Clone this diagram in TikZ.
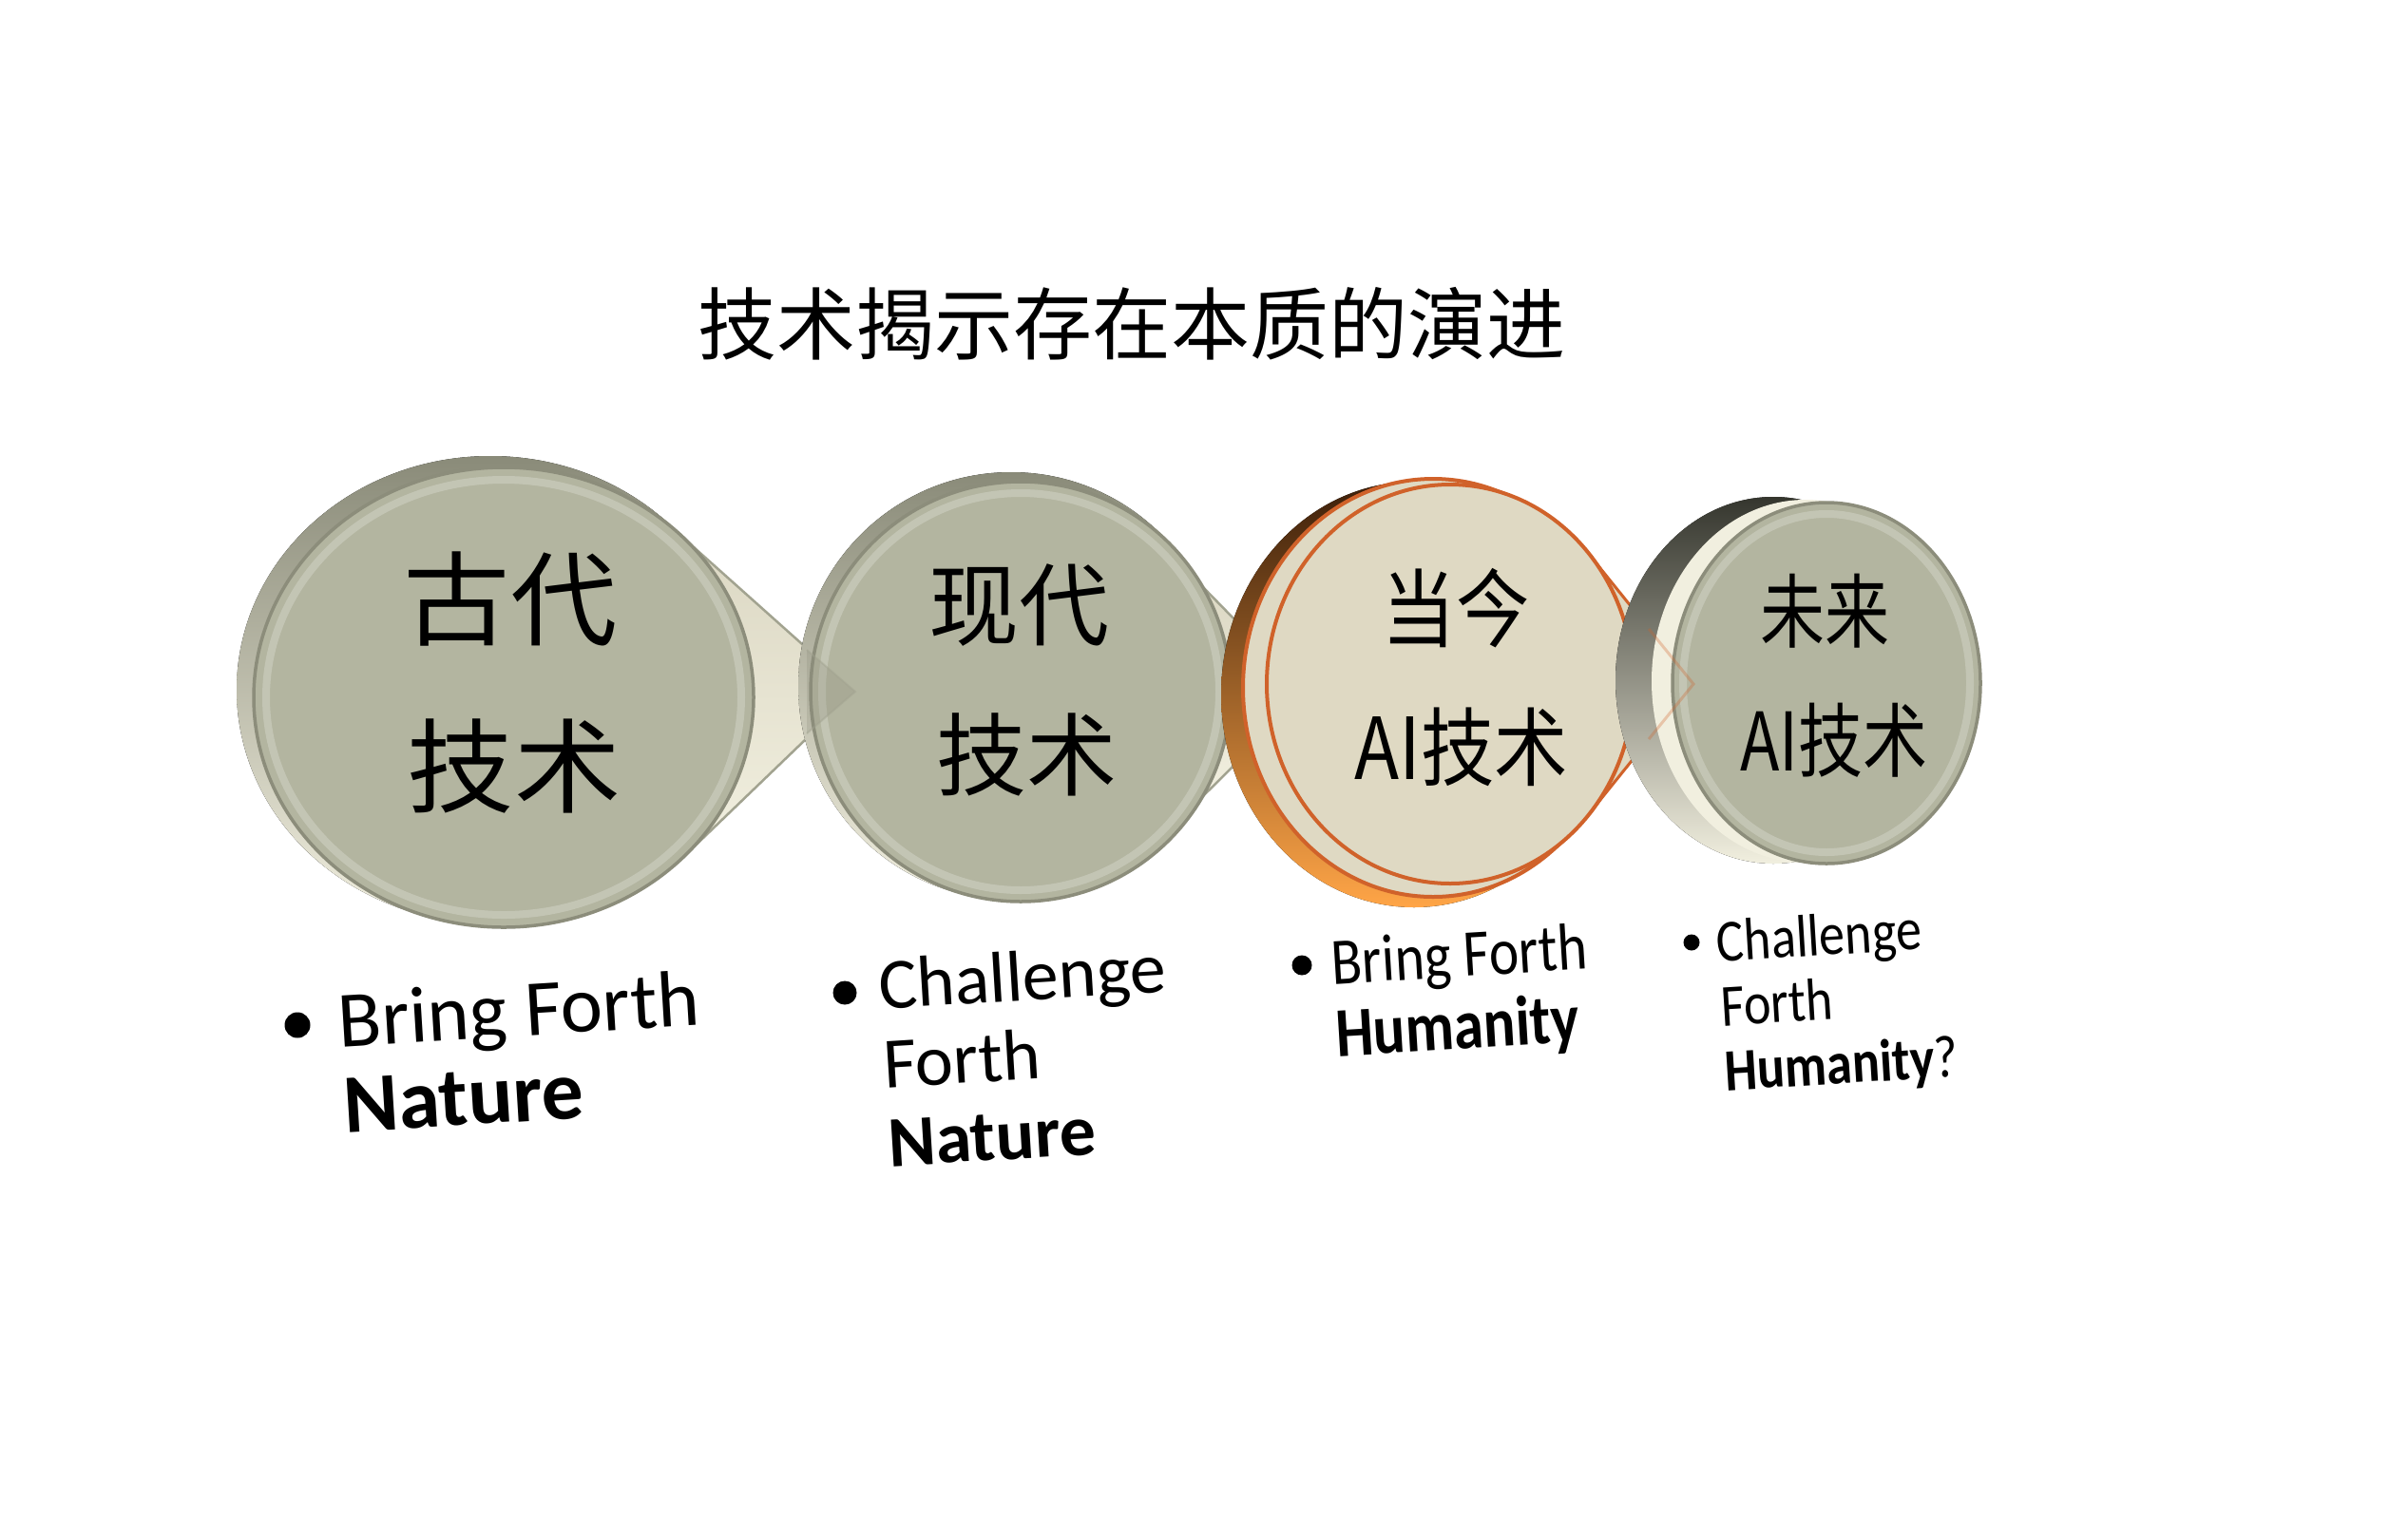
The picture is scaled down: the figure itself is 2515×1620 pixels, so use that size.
\documentclass[tikz,border=0pt]{standalone}
\usepackage{fontspec}
\setmainfont{Carlito}
\newfontfamily\cjk{Noto Sans CJK SC}
\usetikzlibrary{shapes.geometric}
\pgfdeclarelayer{bg}
\pgfsetlayers{bg,main}
\definecolor{facegray}{HTML}{B3B5A0}
\definecolor{rimdark}{HTML}{8C8D7B}
\definecolor{rimtop}{HTML}{8A8B79}
\definecolor{rimmid}{HTML}{DCD8C4}
\definecolor{rimcream}{HTML}{F1EFDF}
\definecolor{creamface}{HTML}{DFD9C3}
\definecolor{orangeline}{HTML}{D0622A}
\definecolor{brownside}{HTML}{3C1F0A}
\definecolor{orangemid}{HTML}{D8702A}
\definecolor{orangelow}{HTML}{FFA547}
\definecolor{darkside}{HTML}{35362E}
\definecolor{darkmid}{HTML}{5E5F53}
\definecolor{wedgeline}{HTML}{A2A390}
\begin{document}
\begin{tikzpicture}[x=1pt,y=-1pt,
  face/.style={ellipse, inner sep=0pt, outer sep=0pt, fill=facegray, draw=rimdark, line width=3.5pt},
  crface/.style={ellipse, inner sep=0pt, outer sep=0pt, fill=creamface, draw=orangeline, line width=4pt},
  glow/.style={white, opacity=0.22, line width=8pt},
  cjkbig/.style={font=\cjk\fontsize{#1}{#1}\selectfont, inner sep=0pt},
  lbl/.style={anchor=base west, inner sep=0pt, rotate=3.5, align=left},
  dot/.style={circle, fill=black, inner sep=0pt, minimum size=#1},
  wedge/.style={draw=wedgeline, line width=2.5pt, top color=rimmid, bottom color=rimcream},
  wedgeo/.style={draw=orangeline, line width=3pt, fill=creamface},
]
\begin{pgfonlayer}{bg}
\fill[white] (0,0) rectangle (2515,1620);
\end{pgfonlayer}
\useasboundingbox (0,0) rectangle (2515,1620);

% title
\node[cjkbig=83] (title) at (1191,341) {技术揭示存在本质的演进};

% coin 1
\fill[top color=rimtop, middle color=rimcream, bottom color=rimcream] (516,726) ellipse [x radius=267, y radius=246];
\node[face, minimum width=526, minimum height=484] (c1) at (530,734) {};
\draw[glow] (c1.center) ellipse [x radius=250, y radius=229];
\node[cjkbig=108, xscale=1.04] (c1a) at (537,631) {古代};
\node[cjkbig=108, xscale=1.04] (c1b) at (541,806) {技术};

% coin 2
\fill[top color=rimtop, middle color=rimcream, bottom color=rimcream] (1064,722) ellipse [x radius=224, y radius=225];
\node[face, minimum width=442, minimum height=442] (c2) at (1074,728) {};
\draw[glow] (c2.center) ellipse [x radius=209, y radius=209];
\node[cjkbig=95] (c2a) at (1072,637) {现代};
\node[cjkbig=95] (c2b) at (1080,794) {技术};

% tip of wedge 1 seen over coin 2
\coordinate (w1tip) at (900,728);
\coordinate (w1u) at (849,684);
\coordinate (w1l) at (849,772);
\fill[rimdark, opacity=0.25] (w1u) -- (w1tip) -- (w1l) -- cycle;
\draw[wedgeline, opacity=0.45, line width=2pt] (w1u) -- (w1tip) -- (w1l);

% coin 3
\fill[top color=brownside, middle color=orangemid, bottom color=orangelow] (1488,731) ellipse [x radius=203, y radius=224];
\draw[fill=creamface, draw=orangeline, line width=4pt] (1508,724) ellipse [x radius=200, y radius=220];
\node[crface, minimum width=386, minimum height=420] (c3) at (1526,720) {};
\node[cjkbig=90, xscale=0.86] (c3a) at (1532,640) {当今};
\node[cjkbig=90, xscale=0.86] (c3b) at (1538,786) {AI技术};

% coin 4
\fill[top color=darkside, middle color=darkmid, bottom color=rimcream] (1866,716) ellipse [x radius=166, y radius=193];
\fill[rimcream] (1900,717) ellipse [x radius=162, y radius=191];
\node[face, minimum width=324, minimum height=380] (c4) at (1922,719) {};
\draw[glow] (c4.center) ellipse [x radius=151, y radius=178];
\node[cjkbig=85, xscale=0.8] (c4a) at (1920,643) {未来};
\node[cjkbig=85, xscale=0.8] (c4b) at (1930,779) {AI技术};

% tip of wedge 3 seen through coin 4
\coordinate (w3tip) at (1782,720);
\coordinate (w3u) at (1735,662);
\coordinate (w3l) at (1735,778);
\draw[orangeline, opacity=0.3, line width=3pt] (w3u) -- (w3tip) -- (w3l);

% wedges (connectors) behind the coins
\coordinate (w2tip) at (1375,730);
\begin{pgfonlayer}{bg}
\draw[wedge] (c1.center) -- (c1.40) -- (w1tip) -- (c1.-40) -- cycle;
\draw[wedge] (c2.center) -- (c2.30) -- (w2tip) -- (c2.-30) -- cycle;
\draw[wedgeo] (c3.center) -- (c3.40) -- (w3tip) -- (c3.-40) -- cycle;
\end{pgfonlayer}

% labels (anchor = baseline of the last line)
\node[dot=27] (b1) at (313,1079) {};
\node[lbl, font=\fontsize{84}{90}\selectfont] (t1) at (363,1192) {Bring Forth\\\textbf{\fontsize{88}{90}\selectfont Nature}};

\node[dot=25] (b2) at (889,1045) {};
\node[lbl, font=\fontsize{76}{83}\selectfont] (t2) at (936,1228) {Challenge\\Forth\\\textbf{Nature}};

\node[dot=21] (b3) at (1370,1016) {};
\node[lbl, xscale=0.85, font=\fontsize{70}{76}\selectfont] (t3) at (1407,1112) {Bring Forth\\\textbf{\fontsize{74}{76}\selectfont Humanity}};

\node[dot=17] (b4) at (1780,992) {};
\node[lbl, xscale=0.86, font=\fontsize{63}{68}\selectfont] (t4) at (1816,1148) {Challenge\\Forth\\\textbf{Humanity}?};
\end{tikzpicture}
\end{document}
